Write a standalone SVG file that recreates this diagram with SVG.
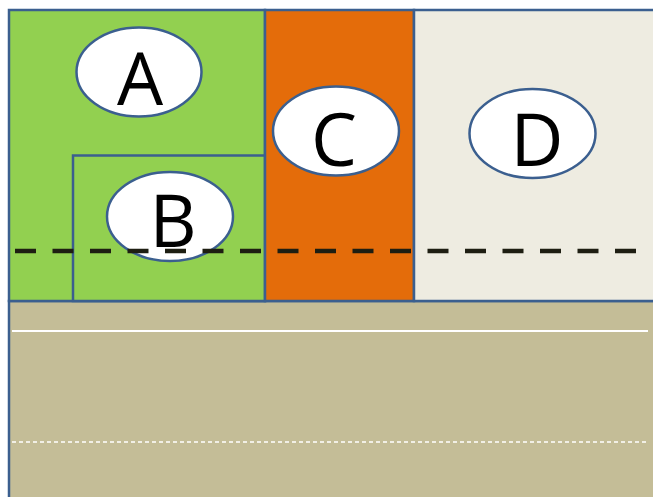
<svg xmlns="http://www.w3.org/2000/svg" width="653" height="497" viewBox="0 0 653 497">
<style>
.box{stroke:#3b5f8f;stroke-width:2.5}
.ell{fill:#ffffff;stroke:#3b5f8f;stroke-width:2.5}
.lbl{font-family:"Open Sans","Noto Sans",sans-serif;font-size:73px;fill:#000000;text-anchor:middle}
</style>
<rect width="653" height="497" fill="#ffffff"/>
<g id="bottom"><rect class="box" x="9" y="301" width="660" height="210" fill="#c4bd97"/></g>
<g id="nodeA"><rect class="box" x="9" y="10" width="256" height="291" fill="#92d050"/>
<ellipse class="ell" cx="139" cy="72" rx="62.5" ry="44.5"/>
<text class="lbl" x="140" y="105">A</text></g>
<g id="nodeB"><rect class="box" x="73" y="155.5" width="192" height="145.5" fill="#92d050"/>
<ellipse class="ell" cx="170" cy="216.5" rx="63" ry="44.5"/>
<text class="lbl" x="173" y="247">B</text></g>
<g id="nodeC"><rect class="box" x="265" y="10" width="149" height="291" fill="#e46c0a"/>
<ellipse class="ell" cx="336" cy="131" rx="63" ry="44.5"/>
<text class="lbl" x="334" y="166">C</text></g>
<g id="nodeD"><rect class="box" x="414" y="10" width="260" height="291" fill="#eeece1"/>
<ellipse class="ell" cx="532.5" cy="133.5" rx="63" ry="44.5"/>
<text class="lbl" x="537" y="166">D</text></g>
<g id="connectors">
<line x1="12" y1="331" x2="648" y2="331" stroke="#ffffff" stroke-width="2"/>
<line x1="12" y1="442" x2="648" y2="442" stroke="#ffffff" stroke-width="1.5" stroke-dasharray="4 3"/>
<line x1="15" y1="251" x2="636" y2="251" stroke="#1e1e12" stroke-width="4.5" stroke-dasharray="21 16.5"/>
</g>
</svg>
